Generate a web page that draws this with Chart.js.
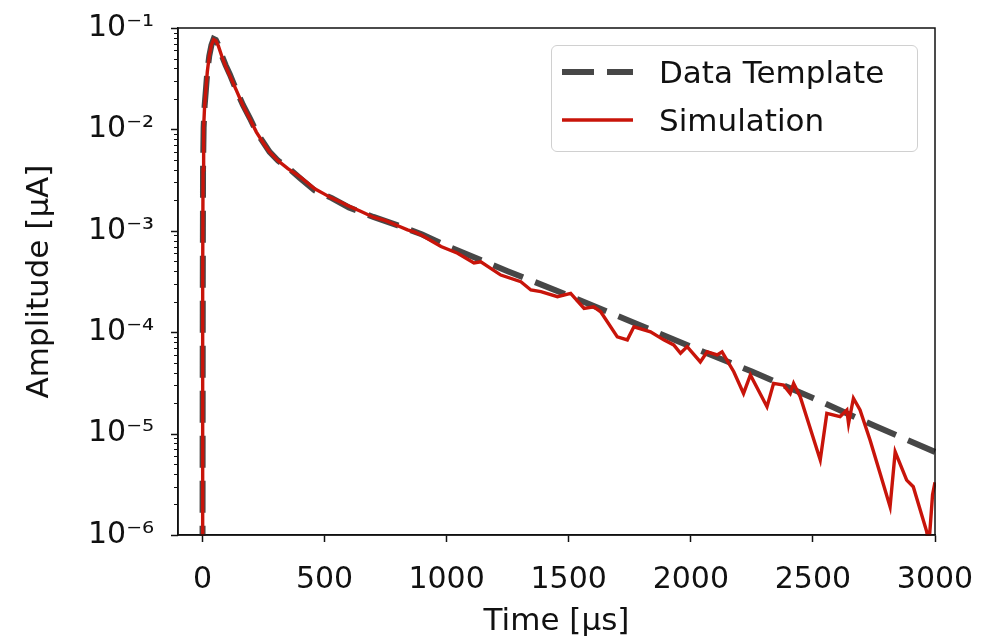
<!DOCTYPE html>
<html>
<head>
<meta charset="utf-8">
<script src="https://cdn.jsdelivr.net/npm/chart.js@4.4.1/dist/chart.umd.min.js"></script>
<style>
  body { margin: 0; background: #fff; }
  #wrap { position: relative; width: 986px; height: 641px; }
  #legend {
    position: absolute; left: 551px; top: 45px; width: 365px; height: 105px;
    border: 1.5px solid #d0d0d0; border-radius: 6px; background: rgba(255,255,255,0.85);
    font-family: "DejaVu Sans", sans-serif; font-size: 31px; color: #111;
  }
  .legend-row { position: absolute; left: 0; height: 40px; display: flex; align-items: center; }
  .legend-row svg { margin-left: 10px; margin-right: 26px; }
</style>
</head>
<body>
<div id="wrap">
  <canvas id="chart" width="986" height="641"></canvas>
  <div id="legend">
    <div class="legend-row" style="top: 6px;">
      <svg width="71" height="10"><line x1="0" y1="5" x2="71" y2="5" stroke="#474747" stroke-width="6" stroke-dasharray="32 13"/></svg>
      <span>Data Template</span>
    </div>
    <div class="legend-row" style="top: 54px;">
      <svg width="71" height="10"><line x1="0" y1="5" x2="71" y2="5" stroke="#c8140a" stroke-width="3.4"/></svg>
      <span>Simulation</span>
    </div>
  </div>
</div>
<script>
// time axis in µs, amplitude in µA
const xTickValues = [0, 500, 1000, 1500, 2000, 2500, 3000];
const yMajorValues = [1e-6, 1e-5, 1e-4, 1e-3, 1e-2, 1e-1];

const templateTime = [0, 0.5, 1.5, 2.5, 5, 9, 14, 20, 28, 37, 46, 55, 65, 80, 95, 112, 140, 166, 195, 221,
  250, 275, 310, 350, 400, 460, 530, 600, 700, 800, 900, 1000, 1250, 1500, 1750, 2000, 2250, 2500, 2750, 3000];
const templateAmp = [1e-8, 1e-6, 3e-4, 4e-3, 0.0105, 0.017, 0.024, 0.037, 0.053, 0.068, 0.078, 0.076, 0.068, 0.053, 0.043, 0.035, 0.024, 0.0174, 0.0128, 0.0095,
  0.0074, 0.006, 0.0049, 0.0042, 0.0033, 0.0025, 0.0021, 0.0017, 0.00137, 0.00113, 0.00092, 0.00071, 4.0e-4, 2.3e-4, 1.29e-4, 7.2e-5, 4.1e-5, 2.24e-5, 1.2e-5, 6.6e-6];

const simTime = [0, 0.5, 1.5, 2.5, 5, 9, 14, 20, 28, 37, 46, 55, 65, 80, 95, 112, 140, 166, 195, 221,
  250, 275, 310, 350, 400, 460, 500, 530, 570, 600, 650, 700, 750, 800, 840, 870, 900, 940, 977,
  1045, 1112, 1140, 1222, 1304, 1345, 1386, 1454, 1508, 1563, 1603, 1631, 1699, 1740, 1767, 1835, 1889, 1930, 1958, 1985,
  2039, 2067, 2108, 2128, 2176, 2216, 2244, 2312, 2339, 2380, 2407, 2421, 2448, 2530, 2557, 2611, 2639, 2646, 2666, 2693,
  2734, 2775, 2816, 2837, 2884, 2911, 2966, 2975, 2990, 3000];
const simAmp = [1e-8, 1e-6, 3e-4, 4e-3, 0.0105, 0.017, 0.024, 0.037, 0.053, 0.068, 0.077, 0.075, 0.067, 0.052, 0.042, 0.034, 0.024, 0.0172, 0.0126, 0.0094,
  0.0073, 0.006, 0.0049, 0.0041, 0.0034, 0.0026, 0.0023, 0.0021, 0.0019, 0.00175, 0.00155, 0.00136, 0.00126, 0.00112, 0.00102, 0.00097, 0.0009, 0.00079, 7.0e-4,
  6.0e-4, 4.81e-4, 4.95e-4, 3.66e-4, 3.15e-4, 2.61e-4, 2.51e-4, 2.24e-4, 2.42e-4, 1.72e-4, 1.78e-4, 1.59e-4, 9.0e-5, 8.4e-5, 1.13e-4, 1.01e-4, 8.4e-5, 7.5e-5, 6.2e-5, 7.2e-5,
  5.1e-5, 6.4e-5, 5.96e-5, 6.4e-5, 4.08e-5, 2.49e-5, 3.79e-5, 1.84e-5, 3.13e-5, 3.01e-5, 2.49e-5, 3.13e-5, 2.31e-5, 5.5e-6, 1.58e-5, 1.47e-5, 1.71e-5, 1.26e-5, 2.23e-5, 1.71e-5,
  8.65e-6, 4.06e-6, 1.9e-6, 6.6e-6, 3.48e-6, 2.99e-6, 1.08e-6, 8e-7, 2.5e-6, 3.3e-6];

const FONT = '"DejaVu Sans", sans-serif';
const SUP = { '-': '⁻', '0': '⁰', '1': '¹', '2': '²', '3': '³', '4': '⁴', '5': '⁵', '6': '⁶', '7': '⁷', '8': '⁸', '9': '⁹' };

function isPowerOfTen(v) {
  const e = Math.log10(v);
  return Math.abs(e - Math.round(e)) < 1e-9;
}

function powerLabel(v) {
  const e = String(Math.round(Math.log10(v)));
  return '10' + e.split('').map(c => SUP[c]).join('');
}

function toPoints(xs, ys) {
  return xs.map((x, i) => ({ x: x, y: ys[i] }));
}

// frame + minor/major tick marks on the log axis
const framePlugin = {
  id: 'frame',
  afterDraw(chart) {
    const { ctx, chartArea } = chart;
    const yScale = chart.scales.y;
    ctx.save();
    ctx.strokeStyle = '#111';
    ctx.lineWidth = 1.5;
    ctx.strokeRect(chartArea.left, chartArea.top, chartArea.right - chartArea.left, chartArea.bottom - chartArea.top);
    yScale.ticks.forEach(t => {
      const y = Math.round(yScale.getPixelForValue(t.value)) + 0.5;
      const major = isPowerOfTen(t.value);
      ctx.lineWidth = major ? 1.5 : 1;
      ctx.beginPath();
      ctx.moveTo(chartArea.left, y);
      ctx.lineTo(chartArea.left - (major ? 7 : 4), y);
      ctx.stroke();
    });
    ctx.restore();
  }
};

const ctx = document.getElementById('chart').getContext('2d');
new Chart(ctx, {
  type: 'line',
  data: {
    datasets: [
      {
        label: 'Data Template',
        data: toPoints(templateTime, templateAmp),
        borderColor: '#474747',
        borderWidth: 6,
        borderDash: [32, 13],
        pointRadius: 0,
        tension: 0,
        clip: 1,
        order: 1
      },
      {
        label: 'Simulation',
        data: toPoints(simTime, simAmp),
        borderColor: '#c8140a',
        borderWidth: 3.4,
        pointRadius: 0,
        tension: 0,
        clip: 1,
        order: 0
      }
    ]
  },
  options: {
    responsive: false,
    animation: false,
    layout: { padding: { top: 28, right: 51, left: 0, bottom: 0 } },
    plugins: { legend: { display: false }, tooltip: { enabled: false } },
    scales: {
      x: {
        type: 'linear',
        min: -100,
        max: 3000,
        afterBuildTicks: scale => { scale.ticks = xTickValues.map(v => ({ value: v })); },
        afterFit: scale => { scale.height = 106; scale.paddingLeft = 0; scale.paddingRight = 0; },
        ticks: { color: '#111', font: { family: FONT, size: 30 }, padding: 20, maxRotation: 0, callback: v => String(v) },
        grid: { drawOnChartArea: false, drawTicks: true, tickLength: 7, tickColor: '#111', tickWidth: 1.5 },
        border: { display: true, color: '#111', width: 1.5 },
        title: { display: true, text: 'Time [µs]', color: '#111', font: { family: FONT, size: 31, lineHeight: 1.2 }, padding: { top: 0, bottom: 0 } }
      },
      y: {
        type: 'logarithmic',
        min: 1e-6,
        max: 1e-1,
        afterBuildTicks: scale => {
          const ticks = [];
          yMajorValues.forEach((m, i) => {
            ticks.push({ value: m, major: true });
            if (i < yMajorValues.length - 1) {
              for (let k = 2; k <= 9; k++) ticks.push({ value: m * k });
            }
          });
          scale.ticks = ticks;
        },
        afterFit: scale => { scale.width = 178; scale.paddingTop = 0; scale.paddingBottom = 0; },
        ticks: {
          autoSkip: false,
          color: '#111',
          font: { family: FONT, size: 30 },
          padding: 24,
          callback: v => isPowerOfTen(v) ? powerLabel(v) : ''
        },
        grid: { drawOnChartArea: false, drawTicks: false },
        border: { display: true, color: '#111', width: 1.5 },
        title: { display: true, text: 'Amplitude [µA]', color: '#111', font: { family: FONT, size: 31, lineHeight: 1.2 }, padding: { top: 21, bottom: 0 } }
      }
    }
  },
  plugins: [framePlugin]
});
</script>
</body>
</html>
